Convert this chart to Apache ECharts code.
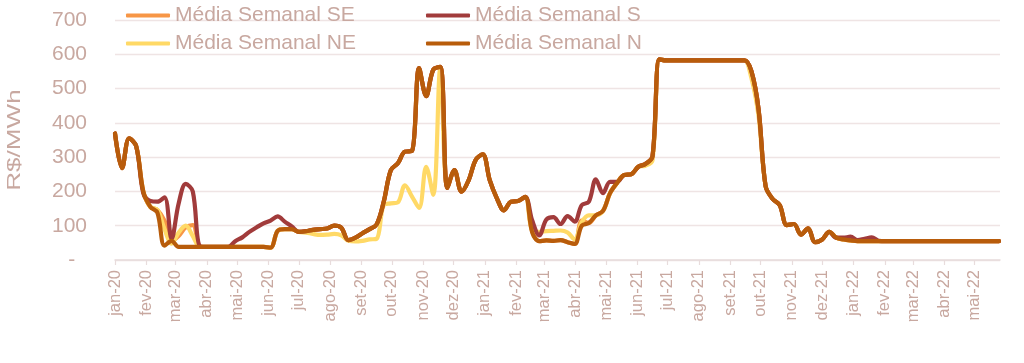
<!DOCTYPE html>
<html><head><meta charset="utf-8">
<script src="https://cdn.jsdelivr.net/npm/echarts@6/dist/echarts.min.js"></script>
<style>html,body{margin:0;padding:0;background:#fff}#c{width:1024px;height:363px}</style>
</head><body><div id="c"></div>
<script>
// ---- data ----
const START = '2020-01-01';          // first weekly observation
const END_DAY = 876;                 // axis end, days after START
const monthStarts = ['2020-01-01','2020-02-01','2020-03-01','2020-04-01','2020-05-01','2020-06-01','2020-07-01','2020-08-01','2020-09-01','2020-10-01','2020-11-01','2020-12-01',
  '2021-01-01','2021-02-01','2021-03-01','2021-04-01','2021-05-01','2021-06-01','2021-07-01','2021-08-01','2021-09-01','2021-10-01','2021-11-01','2021-12-01',
  '2022-01-01','2022-02-01','2022-03-01','2022-04-01','2022-05-01'];
const monthLabels = ['jan-20','fev-20','mar-20','abr-20','mai-20','jun-20','jul-20','ago-20','set-20','out-20','nov-20','dez-20',
  'jan-21','fev-21','mar-21','abr-21','mai-21','jun-21','jul-21','ago-21','set-21','out-21','nov-21','dez-21',
  'jan-22','fev-22','mar-22','abr-22','mai-22'];
const yTicks = [0,100,200,300,400,500,600,700];

const seriesSE = [
369,268,355,332,200,155,146,115,55,70,
95,102,40,38,38,38,38,38,38,38,
38,38,36,85,90,90,82,84,88,90,
92,100,94,58,65,78,90,104,170,262,
282,316,318,560,478,555,563,210,262,199,
232,292,308,232,180,145,170,172,184,85,
55,57,56,58,52,47,115,108,130,143,
195,225,248,250,272,280,302,585,582,582,
582,582,582,582,582,582,582,582,582,582,
550,440,215,178,160,102,105,74,92,52,
60,82,65,60,57,55,55,55,55,55,
55,55,55,55,55,55,55,55,55,55,
55,55,55,55,55,55];
const seriesS = [
369,268,355,332,195,172,170,183,62,165,
222,200,40,38,38,38,38,55,66,82,
95,107,115,127,112,98,82,84,88,90,
92,100,94,58,65,78,90,104,170,262,
282,316,318,560,478,555,563,210,262,199,
232,292,308,232,180,145,170,172,184,115,
72,118,125,105,128,112,160,170,235,195,
228,228,248,250,272,280,302,585,582,582,
582,582,582,582,582,582,582,582,582,582,
550,440,215,178,160,102,105,74,92,52,
60,82,65,65,68,58,62,66,56,55,
55,55,55,55,55,55,55,55,55,55,
55,55,55,55,55,55];
const seriesNE = [
369,268,355,332,200,155,146,90,48,80,
100,70,38,38,38,38,38,38,38,38,
38,38,36,85,90,90,82,80,76,73,
74,76,72,56,54,56,60,62,160,165,
168,218,185,152,272,190,560,210,262,199,
232,292,308,232,180,145,170,172,184,85,
82,84,85,86,80,60,110,130,130,143,
195,225,248,250,272,275,290,585,582,582,
582,582,582,582,582,582,582,582,582,582,
530,420,215,178,160,102,105,74,92,52,
60,82,65,60,57,55,55,55,55,55,
55,55,55,55,55,55,55,55,55,55,
55,55,55,55,55,55];
const seriesN = [
369,268,355,332,200,155,138,42,56,38,
38,38,38,38,38,38,38,38,38,38,
38,38,36,85,90,90,82,84,88,90,
92,100,94,58,65,78,90,104,170,262,
282,316,318,560,478,555,563,210,262,199,
232,292,308,232,180,145,170,172,184,80,
55,57,56,58,52,47,100,108,130,143,
195,225,248,250,272,280,302,585,582,582,
582,582,582,582,582,582,582,582,582,582,
550,440,215,178,160,102,105,74,92,52,
60,82,65,60,57,55,55,55,55,55,
55,55,55,55,55,55,55,55,55,55,
55,55,55,55,55,55];

// ---- build ----
const DAY = 86400000;
const t0 = Date.parse(START);
const dayOf = d => Math.round((Date.parse(d) - t0) / DAY);
const monthDays = monthStarts.map(dayOf);
const labelByDay = {};
monthDays.forEach((d, i) => labelByDay[d] = monthLabels[i]);
const weekDays = seriesN.map((_, i) => i * 7); // weekly observations
const pairs = arr => arr.map((v, i) => [weekDays[i], v]);

const TXT = '#C8A8A0';
const FONT = 'Arial, "Liberation Sans", sans-serif';
const names = ['Média Semanal SE','Média Semanal S','Média Semanal NE','Média Semanal N'];
const colors = {'Média Semanal SE':'#F79646','Média Semanal S':'#A13B3B','Média Semanal NE':'#FFD966','Média Semanal N':'#B85C0B'};

function legendAt(name, left, top) {
  return { data: [name], left, top, padding: 0, orient: 'horizontal',
    icon: 'roundRect', itemWidth: 44, itemHeight: 4,
    textStyle: { color: TXT, fontSize: 21, fontFamily: FONT } };
}
function line(name, arr) {
  return { name, type: 'line', data: pairs(arr), showSymbol: false, smooth: 0.35,
    color: colors[name],
    lineStyle: { width: 4.2, color: colors[name], cap: 'round', join: 'round' } };
}

const chart = echarts.init(document.getElementById('c'), null, { renderer: 'canvas' });
chart.setOption({
  animation: false,
  backgroundColor: '#fff',
  grid: { left: 115, right: 24, top: 20, bottom: 103, containLabel: false },
  legend: [
    legendAt(names[0], 126, 5), legendAt(names[1], 426, 5),
    legendAt(names[2], 126, 33), legendAt(names[3], 426, 33)
  ],
  graphic: [{ type: 'text', x: 15, y: 140, rotation: Math.PI / 2, scaleX: 1.45, scaleY: 1,
    style: { text: 'R$/MWh', fill: TXT, font: '18px Arial, "Liberation Sans", sans-serif', align: 'center', verticalAlign: 'middle' } }],
  xAxis: {
    type: 'value', min: 0, max: END_DAY,
    splitLine: { show: false },
    axisLine: { show: true, lineStyle: { color: '#E8DCDC', width: 1.5 } },
    axisTick: { show: true, customValues: monthDays, length: 5, lineStyle: { color: '#E8DCDC', width: 1.2 } },
    axisLabel: { customValues: monthDays, rotate: 90, margin: 10, color: TXT, fontSize: 16.5, fontFamily: FONT,
      formatter: v => labelByDay[v] || '' }
  },
  yAxis: {
    type: 'value', min: yTicks[0], max: yTicks[yTicks.length - 1], interval: 100,
    axisLine: { show: false }, axisTick: { show: false },
    splitLine: { lineStyle: { color: '#EFE4E4', width: 1.3 } },
    axisLabel: { color: TXT, fontSize: 21, fontFamily: FONT, margin: 28,
      formatter: v => v === 0 ? '-  ' : String(v) }
  },
  series: [ line(names[0], seriesSE), line(names[2], seriesNE), line(names[1], seriesS), line(names[3], seriesN) ]
});
</script></body></html>
